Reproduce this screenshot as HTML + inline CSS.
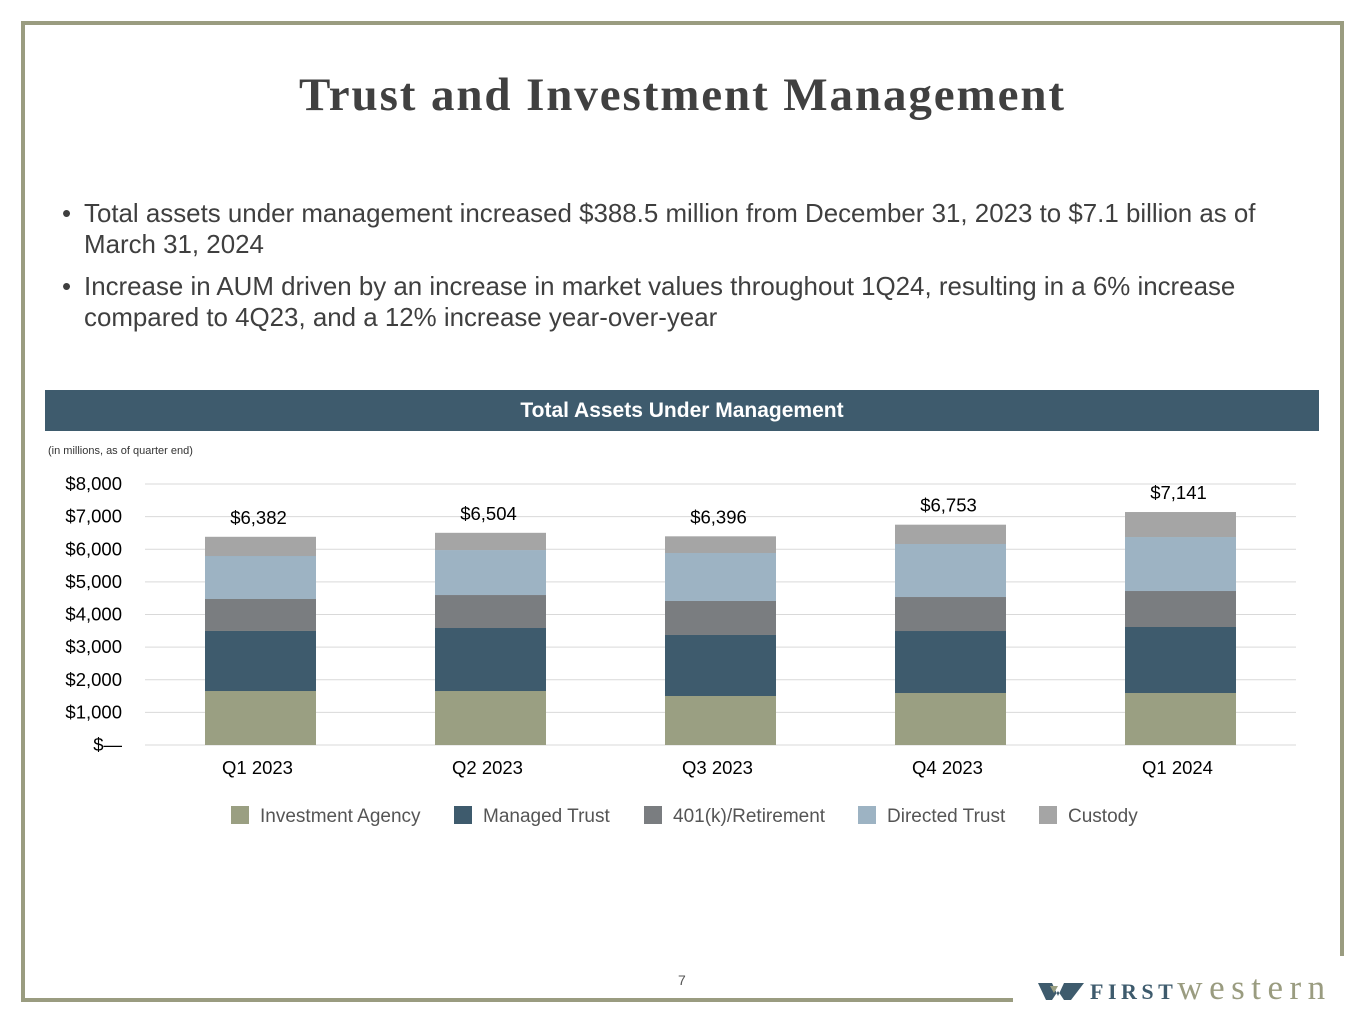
<!DOCTYPE html>
<html><head><meta charset="utf-8"><style>
body{margin:0;width:1365px;height:1024px;background:#fff;position:relative;overflow:hidden;font-family:"Liberation Sans",sans-serif}
.abs{position:absolute}
#title{left:0;width:1365px;top:68px;text-align:center;font:bold 47px "Liberation Serif",serif;letter-spacing:1.9px;color:#404040}
.bul{left:62px;width:1280px;font-size:25.9px;color:#3f3f3f;line-height:31px;white-space:nowrap}
.bul span.d{position:absolute;left:0;top:0}
.bul div{margin-left:22px}
</style></head><body>
<div class="abs" style="left:21px;top:21px;width:4px;height:980px;background:#9a9c80"></div>
<div class="abs" style="left:21px;top:21px;width:1323px;height:4px;background:#9a9c80"></div>
<div class="abs" style="left:1340px;top:21px;width:4px;height:935px;background:#9a9c80"></div>
<div class="abs" style="left:21px;top:998px;width:992px;height:4px;background:#9a9c80"></div>
<div id="title" class="abs">Trust and Investment Management</div>
<div class="abs bul" style="top:199px"><span class="d">•</span><div>Total assets under management increased $388.5 million from December 31, 2023 to $7.1 billion as of<br>March 31, 2024</div></div>
<div class="abs bul" style="top:272px"><span class="d">•</span><div>Increase in AUM driven by an increase in market values throughout 1Q24, resulting in a 6% increase<br>compared to 4Q23, and a 12% increase year-over-year</div></div>
<div class="abs" style="left:45px;top:390px;width:1274px;height:41px;background:#3e5b6d;color:#fff;font-weight:bold;font-size:21px;text-align:center;line-height:41px">Total Assets Under Management</div>
<div class="abs" style="left:48px;top:445px;font-size:11px;color:#333">(in millions, as of quarter end)</div>
<svg class="abs" style="left:0;top:0" width="1365" height="1024" id="chart"></svg>
<div class="abs" style="left:678px;top:972px;font-size:14px;color:#555">7</div>
<svg class="abs" style="left:1038px;top:980px" width="46" height="22"><polygon points="0,3 14,3 20,16 26,3 46,3 33,20 26,20 20,11 14,20 8,20" fill="#3e5b6d"/><polygon points="12,6 20,6 16,13" fill="#9a9f82"/></svg>
<div class="abs" style="left:1090px;top:968px;white-space:nowrap;line-height:40px;height:44px">
<span style="font-family:'Liberation Serif',serif;font-weight:bold;color:#3e5b6d;letter-spacing:4.5px;font-size:22px">FIRST</span><span style="font-family:'Liberation Serif',serif;color:#9a9c80;letter-spacing:6.5px;font-size:35px">western</span></div>
<script>
const quarters=["Q1 2023","Q2 2023","Q3 2023","Q4 2023","Q1 2024"];
const seriesNames=["Investment Agency","Managed Trust","401(k)/Retirement","Directed Trust","Custody"];
const investmentAgency=[1655,1655,1502,1594,1594];
const managedTrust=[1840,1931,1870,1900,2023];
const retirement401k=[980,1011,1042,1042,1103];
const directedTrust=[1318,1379,1471,1625,1655];
const custody=[589,528,511,592,766];
const totals=["$6,382","$6,504","$6,396","$6,753","$7,141"];
const yTicks=[0,1000,2000,3000,4000,5000,6000,7000,8000];
const yTickLabels=["$—","$1,000","$2,000","$3,000","$4,000","$5,000","$6,000","$7,000","$8,000"];
const colors=["#9a9f82","#3e5b6d","#7a7d80","#9db3c3","#a5a5a5"];
const NS="http://www.w3.org/2000/svg",svg=document.getElementById('chart');
const y0=745,yTop=484,xL=145,xR=1296;
const y=v=>y0-(v/8000)*(y0-yTop);
const x=i=>205+i*230;const bw=111;
function mk(t,a,txt){const e=document.createElementNS(NS,t);for(const k in a)e.setAttribute(k,a[k]);if(txt!=null)e.textContent=txt;svg.appendChild(e);return e;}
yTicks.forEach((v,i)=>{
const g=mk('line',{x1:xL,x2:xR,y1:y(v),y2:y(v),stroke:'#d9d9d9','stroke-width':1});


const t=mk('text',{x:122,y:y(v)+6,'text-anchor':'end','font-size':18.5,fill:'#000','font-family':'Liberation Sans'},yTickLabels[i]);


});
const series=[investmentAgency,managedTrust,retirement401k,directedTrust,custody];
quarters.forEach((q,i)=>{
let cum=0;
series.forEach((s,j)=>{
const r=mk('rect',{x:x(i),width:bw,y:y(cum+s[i]),height:y(cum)-y(cum+s[i]),fill:colors[j]});


cum+=s[i];});
const l=mk('text',{x:x(i)+bw/2-2,y:y(cum)-13,'text-anchor':'middle','font-size':18.5,fill:'#000','font-family':'Liberation Sans'},totals[i]);


const c=mk('text',{x:x(i)+bw/2-3,y:774,'text-anchor':'middle','font-size':18.5,fill:'#000','font-family':'Liberation Sans'},q);


});
const lx=[231,454,644,858,1039];
seriesNames.forEach((n,j)=>{
const r=mk('rect',{x:lx[j],y:806,width:18,height:18,fill:colors[j]});


const t=mk('text',{x:lx[j]+29,y:822,'font-size':19,fill:'#555','font-family':'Liberation Sans'},n);


});
</script>
</body></html>
